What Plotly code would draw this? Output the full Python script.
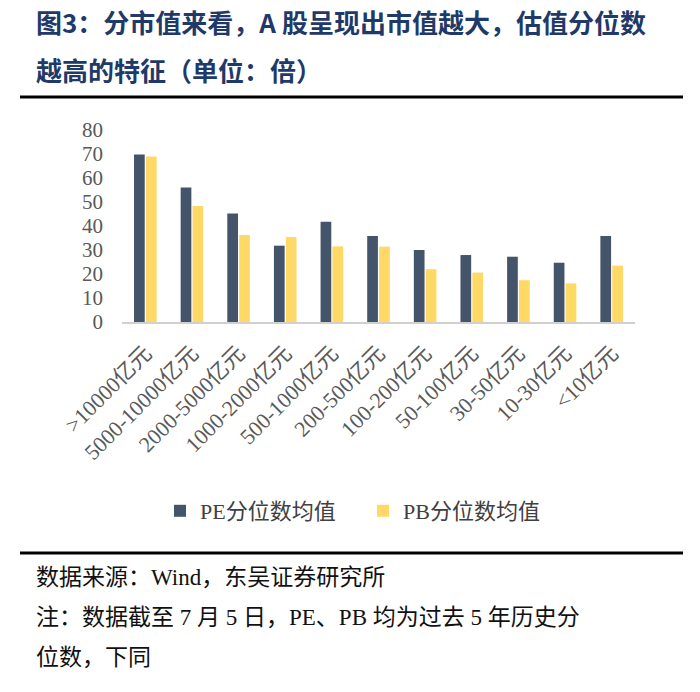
import plotly.graph_objects as go

categories = [">10000亿元", "5000-10000亿元", "2000-5000亿元", "1000-2000亿元",
              "500-1000亿元", "200-500亿元", "100-200亿元", "50-100亿元",
              "30-50亿元", "10-30亿元", "<10亿元"]
pe_values = [69.8, 56.0, 45.2, 31.8, 41.8, 35.8, 30.0, 27.9, 27.2, 24.7, 35.8]
pb_values = [69.0, 48.3, 36.3, 35.4, 31.5, 31.4, 22.0, 20.6, 17.4, 16.1, 23.5]
y_ticks = [0, 10, 20, 30, 40, 50, 60, 70, 80]

SERIF = "Liberation Serif, Times New Roman, Noto Sans CJK SC, serif"
CJK = "Noto Sans CJK SC, Liberation Serif, sans-serif"

# pixel geometry helpers (plot area x 122-635, y 130-322)
L, R, T, B = 122, 635, 130, 322
W, H = R - L, B - T
def px(x):
    return (x - L) / W
def py(y):
    return (B - y) / H

fig = go.Figure()
fig.add_trace(go.Bar(x=categories, y=pe_values, name="PE分位数均值",
                     marker=dict(color="#44546A", line=dict(width=0))))
fig.add_trace(go.Bar(x=categories, y=pb_values, name="PB分位数均值",
                     marker=dict(color="#FFD966", line=dict(width=0))))

fig.update_layout(
    width=700, height=692,
    margin=dict(l=L, r=700 - R, t=T, b=692 - B, autoexpand=False),
    paper_bgcolor="white", plot_bgcolor="white",
    barmode="group", bargap=0.49, bargroupgap=0.1,
    showlegend=True,
    legend=dict(orientation="h", x=px(160), xanchor="left", y=py(511), yanchor="middle",
                font=dict(family=SERIF, size=22, color="#404040"),
                itemwidth=30, traceorder="normal",
                entrywidth=158, entrywidthmode="pixels"),
    xaxis=dict(type="category", tickangle=-45, showgrid=False, showline=True,
               linecolor="#D0D0D0", linewidth=1.5, ticks="", ticklabelstandoff=8,
               tickfont=dict(family=SERIF, size=22, color="#595959")),
    yaxis=dict(range=[0, 80], tickvals=y_ticks, showgrid=False, zeroline=False,
               showline=False, ticks="", ticklabelstandoff=18,
               tickfont=dict(family=SERIF, size=21, color="#595959")),
)

title_color = "#1F3A68"
fig.add_annotation(text="<b>图3：分市值来看，A 股呈现出市值越大，估值分位数</b>",
                   xref="paper", yref="paper", x=px(34), y=py(21), xanchor="left", yanchor="middle",
                   showarrow=False, font=dict(family=CJK, size=26, color=title_color))
fig.add_annotation(text="<b>越高的特征（单位：倍）</b>",
                   xref="paper", yref="paper", x=px(34), y=py(69), xanchor="left", yanchor="middle",
                   showarrow=False, font=dict(family=CJK, size=26, color=title_color))

footer_lines = ["数据来源：Wind，东吴证券研究所",
                "注：数据截至 7 月 5 日，PE、PB 均为过去 5 年历史分",
                "位数，下同"]
for i, t in enumerate(footer_lines):
    fig.add_annotation(text=t, xref="paper", yref="paper", x=px(34), y=py(577 + 40 * i),
                       xanchor="left", yanchor="middle", showarrow=False,
                       font=dict(family=SERIF, size=23, color="#111111"))

for yy in (97, 553):
    fig.add_shape(type="line", xref="paper", yref="paper", x0=px(20), x1=px(683),
                  y0=py(yy), y1=py(yy), line=dict(color="black", width=3))

fig.write_html("out.html")
